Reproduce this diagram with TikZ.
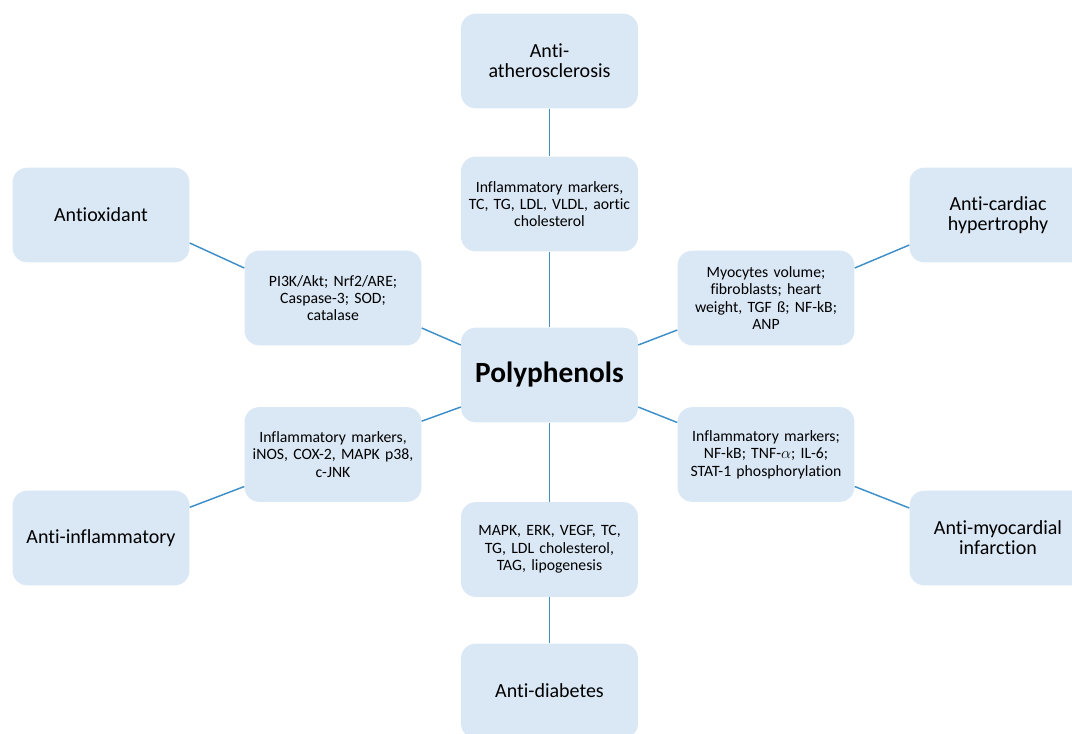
\documentclass[tikz,border=0pt]{standalone}
\usepackage{fontspec}
\setmainfont{Carlito}[Ligatures=NoCommon]
\usetikzlibrary{backgrounds}

\definecolor{boxfill}{RGB}{218,231,245}
\definecolor{linkblue}{RGB}{62,143,200}

\tikzset{
    effect/.style={fill=boxfill, rounded corners=11pt, minimum width=132pt,
        minimum height=71pt, align=center, text width=126pt,
        font=\fontsize{15}{15}\selectfont},
    marker/.style={fill=boxfill, rounded corners=11pt, minimum width=132pt,
        minimum height=71pt, align=center, text width=126pt,
        font=\fontsize{11.8}{13}\selectfont},
    link/.style={draw=linkblue, line width=1.1pt}
}

\begin{document}
\begin{tikzpicture}[x=0.75pt, y=-0.75pt]
                \useasboundingbox (0,0) rectangle (1072,733);

                %%centre
                \node[marker, font=\fontsize{22}{24}\selectfont\bfseries] (poly) at (549.5,375) {Polyphenols};

                %%inner ring
                \node[marker] (athmk) at (549.5,204) {Inflammatory markers,\\ TC, TG, LDL, VLDL, aortic\\ cholesterol};
                \node[marker] (oxmk) at (333,298) {PI3K/Akt; Nrf2/ARE;\\ Caspase-3; SOD;\\ catalase};
                \node[marker] (hypmk) at (766,298) {Myocytes volume;\\ fibroblasts; heart\\ weight, TGF ß; NF-kB;\\ ANP};
                \node[marker] (inflmk) at (333,454.5) {Inflammatory markers,\\ iNOS, COX-2, MAPK p38,\\ c-JNK};
                \node[marker] (infmk) at (766,454.5) {Inflammatory markers;\\ NF-kB; TNF-$\alpha$; IL-6;\\ STAT-1 phosphorylation};
                \node[marker] (diamk) at (549.5,549.5) {MAPK, ERK, VEGF, TC,\\ TG, LDL cholesterol,\\ TAG, lipogenesis};

                %%outer ring
                \node[effect] (ath) at (549.5,61) {Anti-\\ atherosclerosis};
                \node[effect] (ox) at (101,215) {Antioxidant};
                \node[effect] (hyp) at (998,215) {Anti-cardiac\\ hypertrophy};
                \node[effect] (infl) at (101,538) {Anti-inflammatory};
                \node[effect] (inf) at (998,538) {Anti-myocardial\\ infarction};
                \node[effect] (dia) at (549.5,691) {Anti-diabetes};

                %%links up and down
                \draw[link] (ath) -- (athmk);
                \draw[link] (athmk) -- (poly);
                \draw[link] (poly) -- (diamk);
                \draw[link] (diamk) -- (dia);

                %%links left
                \draw[link] ([yshift=-21pt]ox.east) -- ([yshift=22.5pt]oxmk.west);
                \draw[link] ([yshift=-22.5pt]oxmk.east) -- ([yshift=22.5pt]poly.west);
                \draw[link] ([yshift=-24pt]poly.west) -- ([yshift=25pt]inflmk.east);
                \draw[link] ([yshift=-24pt]inflmk.west) -- ([yshift=23pt]infl.east);

                %%links right
                \draw[link] ([yshift=22.5pt]poly.east) -- ([yshift=-24pt]hypmk.west);
                \draw[link] ([yshift=22.5pt]hypmk.east) -- ([yshift=-22.5pt]hyp.west);
                \draw[link] ([yshift=-24pt]poly.east) -- ([yshift=24pt]infmk.west);
                \draw[link] ([yshift=-24pt]infmk.east) -- ([yshift=22.5pt]inf.west);
            \end{tikzpicture}
\end{document}
